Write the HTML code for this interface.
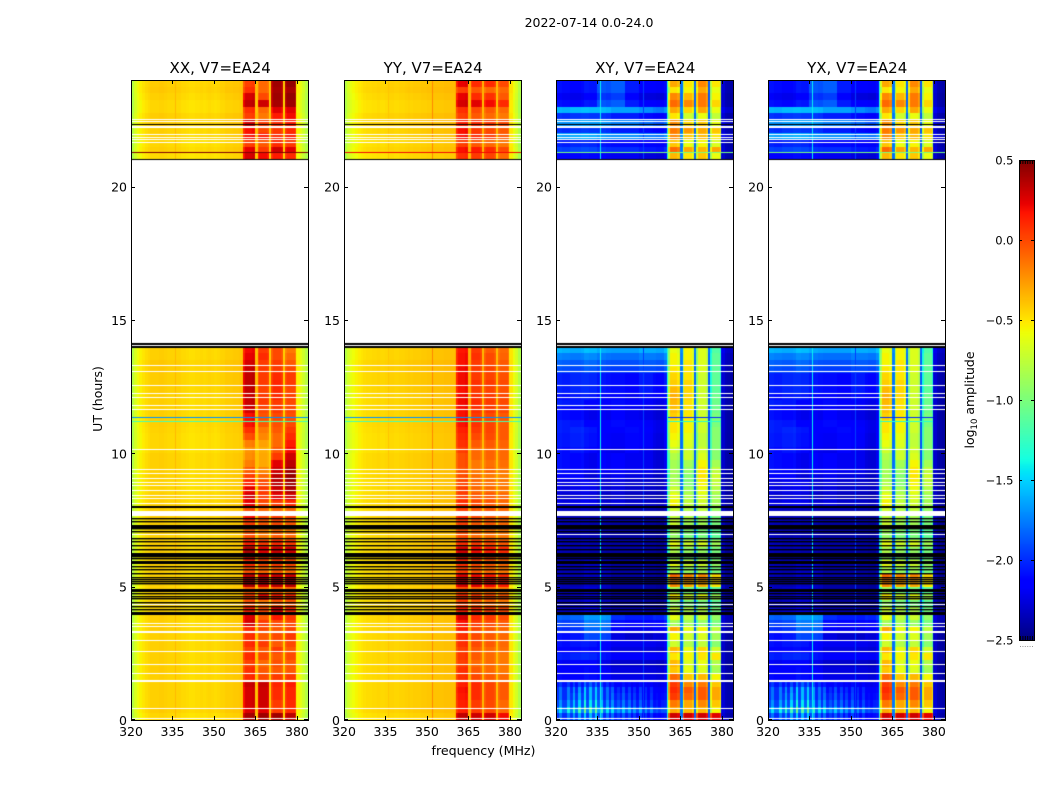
<!DOCTYPE html>
<html lang="en">
<head>
<meta charset="utf-8">
<title>2022-07-14 0.0-24.0</title>
<style>
html,body{margin:0;padding:0;background:#fff;}
#stage{position:relative;width:1050px;height:800px;overflow:hidden;background:#fff;font-family:"DejaVu Sans","Liberation Sans",sans-serif;}
canvas{position:absolute;display:block;}
svg{position:absolute;left:0;top:0;}
text{font-family:"DejaVu Sans","Liberation Sans",sans-serif;fill:#000;}
</style>
</head>
<body>
<div id="stage">
<canvas id="heat-xx" width="177" height="640" style="left:131px;top:80px"></canvas>
<canvas id="heat-yy" width="177" height="640" style="left:344px;top:80px"></canvas>
<canvas id="heat-xy" width="177" height="640" style="left:556px;top:80px"></canvas>
<canvas id="heat-yx" width="177" height="640" style="left:768px;top:80px"></canvas>
<canvas id="cbar" width="15" height="480" style="left:1019px;top:160px"></canvas>
<svg id="overlay" width="1050" height="800" viewBox="0 0 1050 800">
<text x="589" y="27" text-anchor="middle" font-size="12.5">2022-07-14 0.0-24.0</text>
<text x="483.5" y="755" text-anchor="middle" font-size="12.6">frequency (MHz)</text>
<text transform="translate(102,399) rotate(-90)" text-anchor="middle" font-size="12.5">UT (hours)</text>
<text transform="translate(974,400) rotate(-90)" text-anchor="middle" font-size="12.5">log<tspan font-size="8.5" dy="3">10</tspan><tspan dy="-3"> amplitude</tspan></text>
</svg>
</div>
<script>
// ---- axis labels ----
const xTicks = [320, 335, 350, 365, 380];
const yTicks = [0, 5, 10, 15, 20];
const cbarTicks = [0.5, 0, -0.5, -1, -1.5, -2, -2.5];
const panelTitles = ["XX, V7=EA24", "YY, V7=EA24", "XY, V7=EA24", "YX, V7=EA24"];

// ---- frequency channels (MHz edges) ----
const channelEdges = [320,321,322,323,324,325,326,327,328,329,330,331,332,333,334,335,336,337,338,339,340,341,342,343,344,345,346,347,348,349,350,351,352,353,354,355,356,357,358,359,360,
 360.4,361.2,363.8,365,365.8,366.4,369.2,369.8,370.6,371.2,374.4,375,375.7,376.3,379.2,379.8,381,382,383,384];
// which in-band segment a channel belongs to (-1 = outside the bands)
const channelBand = [-1,-1,-1,-1,-1,-1,-1,-1,-1,-1,-1,-1,-1,-1,-1,-1,-1,-1,-1,-1,-1,-1,-1,-1,-1,-1,-1,-1,-1,-1,-1,-1,-1,-1,-1,-1,-1,-1,-1,-1,-1,
 0,0,0,-1,1,1,1,-1,2,2,2,-1,3,3,3,-1,-1,-1,-1];

// ---- log10 amplitude per channel, outside bands (bands: edge offset) ----
const xxProfile = [-.8,-.66,-.58,-.54,-.5,-.47,-.45,-.43,-.43,-.43,-.42,-.42,-.43,-.44,-.44,-.44,-.44,-.44,-.46,-.46,-.47,-.48,-.48,-.47,-.47,-.46,-.47,-.46,-.45,-.46,-.47,-.46,-.44,-.44,-.42,-.42,-.42,-.41,-.41,-.4,-.4,
 -.12,-.02,0,-.38,-.08,0,-.03,-.42,-.08,0,-.05,-.44,-.05,0,-.05,-.55,-.62,-.7,-.8];
const yyProfile = [-.8,-.68,-.62,-.58,-.55,-.52,-.5,-.48,-.47,-.47,-.46,-.46,-.45,-.46,-.46,-.45,-.44,-.44,-.45,-.45,-.44,-.44,-.43,-.42,-.43,-.42,-.42,-.42,-.41,-.41,-.4,-.4,-.39,-.39,-.39,-.39,-.38,-.38,-.38,-.38,-.34,
 -.1,-.02,0,-.32,-.06,0,-.05,-.36,-.06,0,-.05,-.38,-.05,0,-.05,-.5,-.6,-.68,-.82];
const crossProfile = [-2.18,-2.18,-2.2,-2.2,-2.2,-2.22,-2.22,-2.22,-2.22,-2.2,-2.2,-2.2,-2.22,-2.22,-2.22,-2.22,-2.22,-2.22,-2.24,-2.24,-2.25,-2.25,-2.25,-2.25,-2.25,-2.25,-2.25,-2.25,-2.25,-2.25,-2.25,-2.25,-2.26,-2.26,-2.26,-2.26,-2.28,-2.28,-2.28,-2.2,-1.4,
 -.35,0,-.06,-1.8,-.3,0,-.1,-1.85,-.3,0,-.1,-1.9,-.25,0,-.2,-2.3,-2.38,-2.4,-2.42];

// narrow interference lines: frequency (MHz), log10 amplitude
const xxStreaks = [[335.9,-.36]];
const yyStreaks = [[335.9,-.4],[351.8,-.2]];
const crossStreaks = [[335.9,-1.42],[351.5,-1.95]];

// ---- time rows: 0-14 h and 21-24 h in quarter-hour steps; log10 amplitude per in-band segment ----
const xxBand1 = [.42,.28,.3,.3, .3,.33,.12,.1, .05,.12,.05,.12, .1,.12,.3,.28, .15,0,.05,-.05, .4,.35,0,.1, .2,.4,.15,0, -.05,.05,.2,0, .25,.3,.25,.15, .05,-.05,-.15,-.2, -.22,-.15,0,.1, .2,.2,.3,.33, .33,.35,.35,.35, .33,.3,.25,.22, .3,.25,.05,.2, .2,.3,.05,.1, .35,.3,.1,.05];
const xxBand2 = [.42,.25,.3,.3, .3,.32,0,-.05, -.1,0,-.05,.05, -.05,0,.05,-.05, 0,-.15,.2,-.1, .3,.3,-.1,0, .05,.25,.05,-.15, -.15,-.05,0,-.1, 0,.05,.05,0, -.1,-.2,-.3,-.3, -.32,-.28,-.2,-.15, -.05,-.03,0,.05, .05,.02,.05,.05, .05,.05,.1,.05, .2,.05,-.05,.15, 0,.05,-.15,-.1, .3,0,-.1,-.1];
const xxBand3 = [.42,.05,.05,.1, .1,.12,.05,-.05, -.02,-.05,.05,-.05, 0,-.05,0,.15, .3,-.05,.15,-.05, .35,.3,-.05,.05, .05,.3,.1,-.05, -.1,0,.05,-.1, .05,.25,.3,.35, .35,.3,.25,.05, -.05,-.1,-.1,-.05, -.02,0,.05,.05, .1,.1,.12,.1, .05,.05,0,0, .15,.3,.1,.1, .05,.1,.15,.25, .4,.42,.4,.42];
const xxBand4 = [.35,.1,.1,.12, .12,.15,.05,-.05, -.05,0,-.05,0, .05,0,0,.05, .1,-.05,.1,-.1, .35,.3,-.1,0, 0,.3,.05,-.1, -.15,-.05,0,-.1, .1,.3,.38,.42, .45,.42,.35,.3, .2,.15,.1,.05, 0,-.02,0,0, .02,0,.05,.05, 0,-.05,-.1,-.15, .1,.25,.05,.15, .1,.15,.2,.25, .42,.45,.4,.45];

const yyBand1 = [.35,.15,.15,.18, .2,.15,.1,.1, .05,.08,.05,.1, .1,.15,.2,.3, .15,.05,.1,0, .3,.28,.05,.1, .15,.3,.1,0, 0,.05,.1,.05, .1,.05,.05,.02, 0,-.02,0,0, .05,.1,.12,.15, .2,.2,.2,.22, .22,.2,.22,.22, .22,.2,.2,.18, .1,.2,.05,.2, .2,.15,.05,.1, .3,.25,.05,.25];
const yyBand2 = [.3,.05,.05,.1, .1,.1,0,-.05, -.1,-.05,-.05,0, 0,0,.05,.1, .1,-.05,.05,-.1, .25,.2,-.05,0, .05,.2,.05,-.1, -.1,-.05,0,-.05, 0,-.05,-.1,-.1, -.12,-.15,-.15,-.1, -.1,-.05,0,.05, .08,.05,.08,.1, .08,.05,.08,.05, .05,.05,.08,.05, .05,.15,-.05,.1, .05,.1,-.05,0, .25,.1,-.05,.1];
const yyBand3 = [.3,0,0,.02, .02,.02,-.05,-.1, -.1,-.1,-.1,-.05, -.05,-.05,0,.05, .05,-.1,0,-.1, .2,.15,-.1,-.05, 0,.15,0,-.12, -.12,-.05,-.05,-.05, -.05,-.05,-.1,-.12, -.15,-.1,-.12,-.08, -.08,-.05,0,.02, .02,0,.05,.05, .05,.02,.05,.02, .02,0,0,-.05, .02,.1,-.1,.05, 0,.05,-.1,-.05, .2,.08,-.1,.1];
const yyBand4 = [.2,-.1,-.1,-.05, -.05,-.05,-.1,-.15, -.15,-.15,-.12,-.1, -.1,-.1,-.05,0, 0,-.15,-.05,-.15, .15,.1,-.15,-.1, -.05,.1,-.05,-.15, -.15,-.1,-.1,-.1, -.1,-.1,-.15,-.15, -.18,-.15,-.12,-.1, -.1,-.08,-.05,-.05, -.05,-.05,0,0, 0,-.02,0,-.02, -.05,-.05,-.08,-.1, -.1,0,-.15,-.05, -.05,0,-.15,-.1, .1,-.05,-.1,0];

const crossBand1 = [.3,-.3,-.15,.05, .1,.05,-.1,-.4, -.35,-.5,-.35,-.7, -.55,-.3,-.85,-.6, -.7,-.9,-.5,-.85, -.2,-.1,-.8,-.6, -.9,-.8,-.6,-.9, -.85,-.7,-.75,-.7, -.55,-.6,-.7,-.8, -.85,-.85,-.85,-.8, -.7,-.6,-.55,-.5, -.5,-.42,-.38,-.35, -.32,-.35,-.42,-.45, -.5,-.55,-.55,-.6, -.35,-.1,-.4,-.2, -.15,-.2,-.5,-.3, -.1,-.2,-.5,-.3];
const crossBand2 = [.3,-.35,-.3,-.1, -.05,-.2,-.4,-.6, -.65,-.55,-.6,-.8, -.7,-.6,-.85,-.75, -.8,-1,-.7,-1, -.3,-.2,-.9,-.7, -1,-.9,-.7,-1, -.95,-.85,-.8,-.8, -.75,-.8,-.85,-.95, -.95,-.9,-.85,-.7, -.7,-.65,-.6,-.55, -.55,-.5,-.5,-.48, -.45,-.45,-.45,-.5, -.5,-.5,-.55,-.55, -.5,-.3,-.6,-.4, -.25,-.45,-.7,-.45, -.2,-.35,-.55,-.5];
const crossBand3 = [.3,-.35,-.2,-.05, -.05,-.15,-.35,-.65, -.6,-.5,-.45,-.75, -.65,-.55,-.9,-.7, -.8,-1,-.6,-1, -.3,-.2,-.85,-.7, -.95,-.9,-.65,-1, -1,-.85,-.85,-.75, -.7,-.65,-.6,-.55, -.5,-.5,-.55,-.65, -.7,-.75,-.75,-.7, -.7,-.7,-.7,-.7, -.7,-.7,-.7,-.7, -.65,-.65,-.65,-.65, -.4,-.35,-.55,-.35, -.3,-.4,-.6,-.3, -.15,-.15,-.3,-.2];
const crossBand4 = [.25,-.55,-.4,-.3, -.3,-.4,-.55,-.85, -.8,-.5,-.7,-.95, -.85,-.75,-1,-.9, -1,-1.1,-.85,-1.1, -.5,-.45,-1,-.9, -1.05,-1,-.85,-1.1, -1.1,-1,-1,-.9, -.85,-.85,-.8,-.75, -.7,-.75,-.85,-.95, -.95,-.95,-.95,-.95, -1,-1,-1.05,-1.05, -1.05,-1.1,-1.1,-1.1, -1.1,-1.1,-1.1,-1.15, -.6,-.3,-.65,-.5, -.4,-.6,-.75,-.6, -.45,-.55,-.6,-.5];

// row-to-row offset of the out-of-band level
const parallelRowOffset = [-.02,.01,0,0, 0,0,0,.01, 0,0,0,0, 0,.01,0,0, -.02,-.01,0,0, 0,-.01,0,0, 0,0,0,0, 0,0,.01,0, 0,0,-.01,-.01, 0,0,0,0, -.02,-.02,-.02,-.01, 0,0,0,0, 0,.01,.01,.01, .02,.02,0,0, -.03,0,-.02,0, 0,.02,.01,-.02, -.02,0,.02,.01];
const crossRowOffset = [.1,.3,.15,.1, .1,.05,.02,0, -.1,.05,-.05,0, -.05,.05,.1,.2, -.1,-.15,-.15,-.15, -.15,-.15,-.15,-.15, -.15,-.15,-.15,-.15, -.15,-.15,-.15,-.12, -.05,-.1,-.05,-.05, -.05,0,0,0, 0,.03,.03,.05, .05,0,0,.05, .05,.1,.1,.1, .15,.2,.3,.45, 0,.2,.1,.5, .1,.4,.1,.5, .1,0,.1,.1];

// low-altitude interference comb in the first hour and a half (per channel, 320-360 MHz)
const crossLowComb = [.1,.5,.1,.1,.6,.1,.7,.1,.8,.1,1,.1,.9,.2,1,.3,.8,.1,.6,.1,.6,.1,.3,.1,.5,.1,.4,0,.3,0,.4,0,.3,0,.3,0,.1,0,.1,0];
const crossLowWeight = [.5,.75,.6,.5,.5,.25];

// smooth patches of emission: one row per hour (0-13, 21-23), one column per 5 MHz (320-360)
const crossPatch = [
 [.05,.1,.1,.05,.05,.05,.03,.03],[.05,.05,.1,.05,0,0,0,0],[.1,.15,.15,.1,.05,.05,.05,.05],[.15,.2,.35,.35,.05,0,0,.05],
 [0,.05,.1,.05,0,0,0,0],[0,0,.05,.05,0,0,0,0],[0,0,0,0,0,0,0,0],[0,0,0,0,0,0,0,0],
 [0,.05,.05,0,.05,0,0,0],[.1,.1,0,.05,.1,.05,.05,0],[.1,.15,.1,.03,.03,.1,.05,0],[.1,.1,0,.03,.1,.05,.03,0],
 [.05,.1,.1,.05,.05,0,.1,.05],[.15,.15,.2,.15,.15,.15,.2,.2],
 [.05,.1,.1,.05,.05,.05,0,0],[.1,.15,.15,.15,.1,.1,.05,0],[0,0,.05,.25,.3,.1,0,0]
];

// flagged integrations (UT hours)
const whiteFlagHours = [22.55,22.46,21.97,21.88,21.78,21.69,13.33,13.07,12.58,12.28,12.12,11.83,11.68,10.15,9.40,9.25,9.06,8.93,8.80,8.61,8.42,8.34,8.12,6.97,4.35,3.65,3.52,3.0,2.57,2.09,1.75,.46,.09];
const whiteThickHours = [22.29,7.82,3.35,1.5];
const blackHairHours = [22.34,21.05,8.03,7.97];
const blackFlagHours = [7.56,7.47,7.20,7.08,6.83,6.71,6.58,6.41,6.16,6.06,5.78,5.66,5.53,5.35,5.27,5.20,5.12,4.75,4.66,4.56,4.43,4.26,4.16];
const blackThickHours = [14.12,14.03,7.33,6.27,5.95,4.91,4.06];
const parallelDarkHours = [21.31];
const parallelBlueLines = [[11.38,-1.7],[11.23,-1.2]];
const crossBandLines = [[11.38,-2.0],[11.23,-1.3]];
const crossAccentHours = [21.31];

// ---- scales ----
const FREQ_MIN = 320, FREQ_MAX = 384, HOUR_MIN = 0, HOUR_MAX = 24;
const PANEL_W = 177, PANEL_H = 640, PANEL_TOP = 80;
const panelLefts = [131, 344, 556, 768];
function xScale(f){ return (f - FREQ_MIN) / (FREQ_MAX - FREQ_MIN) * PANEL_W; }
function yScale(h){ return (HOUR_MAX - h) / (HOUR_MAX - HOUR_MIN) * PANEL_H; }
function rowStart(r){ return r < 56 ? r / 4 : 21 + (r - 56) / 4; }

function lerpStops(stops, t){
  for (let i = 1; i < stops.length; i++) {
    if (t <= stops[i][0]) {
      const a = stops[i-1], b = stops[i];
      return a[1] + (b[1] - a[1]) * (t - a[0]) / (b[0] - a[0]);
    }
  }
  return stops[stops.length-1][1];
}
const jetR = [[0,0],[.35,0],[.66,1],[.89,1],[1,.5]];
const jetG = [[0,0],[.125,0],[.375,1],[.64,1],[.91,0],[1,0]];
const jetB = [[0,.5],[.11,1],[.34,1],[.65,0],[1,0]];
function colorOf(v){
  const t = Math.max(0, Math.min(1, (v + 2.5) / 3));
  return "rgb(" + Math.round(255*lerpStops(jetR,t)) + "," + Math.round(255*lerpStops(jetG,t)) + "," + Math.round(255*lerpStops(jetB,t)) + ")";
}

function cellValue(profile, bands, rowOffset, isCross, c, r){
  const b = channelBand[c];
  if (b >= 0) return bands[b][r] + profile[c];
  let v = profile[c] + rowOffset[r];
  if (isCross && c < 40) {
    const hourIdx = r < 56 ? Math.floor(r / 4) : 14 + Math.floor((r - 56) / 4);
    v += crossPatch[hourIdx][Math.floor(c / 5)];
    if (r < crossLowWeight.length) v += crossLowComb[c] * crossLowWeight[r];
  }
  if (isCross && c >= 40) v -= rowOffset[r] * 0.8;
  return v;
}

function flagLine(ctx, h, thick, color){
  ctx.fillStyle = color;
  ctx.fillRect(0, Math.round(yScale(h)), PANEL_W, thick);
}

function drawPanel(id, profile, bands, rowOffset, isCross, streaks){
  const ctx = document.getElementById(id).getContext("2d");
  ctx.fillStyle = "#fff";
  ctx.fillRect(0, 0, PANEL_W, PANEL_H);
  const rows = rowOffset.length, cols = channelBand.length;
  for (let r = 0; r < rows; r++) {
    const h0 = rowStart(r), h1 = h0 + 0.25;
    const yTop = Math.round(yScale(h1)), yBot = Math.round(yScale(h0));
    for (let c = 0; c < cols; c++) {
      const xa = Math.round(xScale(channelEdges[c])), xb = Math.round(xScale(channelEdges[c+1]));
      ctx.fillStyle = colorOf(cellValue(profile, bands, rowOffset, isCross, c, r));
      ctx.fillRect(xa, yTop, xb - xa, yBot - yTop);
    }
  }
  streaks.forEach(function(s){
    ctx.fillStyle = colorOf(s[1]);
    ctx.fillRect(Math.round(xScale(s[0])), 0, 1, PANEL_H);
  });
  // data gap between 14 h and 21 h
  ctx.fillStyle = "#fff";
  ctx.fillRect(0, Math.round(yScale(21.05)), PANEL_W, Math.round(yScale(14)) - Math.round(yScale(21.05)));
  if (isCross) {
    crossBandLines.forEach(function(l){
      ctx.fillStyle = colorOf(l[1]);
      ctx.fillRect(Math.round(xScale(360.4)), Math.round(yScale(l[0])), Math.round(xScale(379.8)) - Math.round(xScale(360.4)), 1);
    });
    crossAccentHours.forEach(function(h){ flagLine(ctx, h, 1, colorOf(-1.0)); });
  } else {
    parallelBlueLines.forEach(function(l){ flagLine(ctx, l[0], 1, colorOf(l[1])); });
    parallelDarkHours.forEach(function(h){ flagLine(ctx, h, 1, colorOf(id === "heat-xx" ? 0.5 : 0.2)); });
  }
  whiteFlagHours.forEach(function(h){ flagLine(ctx, h, 1, "#fff"); });
  whiteThickHours.forEach(function(h){ flagLine(ctx, h, h === 7.82 ? 5 : 2, "#fff"); });
  blackHairHours.forEach(function(h){ flagLine(ctx, h, 1, "#000"); });
  blackFlagHours.forEach(function(h){ flagLine(ctx, h, 1.4, "#000"); });
  blackThickHours.forEach(function(h){ flagLine(ctx, h, h >= 14 ? 2 : 3, "#000"); });
}

drawPanel("heat-xx", xxProfile, [xxBand1,xxBand2,xxBand3,xxBand4], parallelRowOffset, false, xxStreaks);
drawPanel("heat-yy", yyProfile, [yyBand1,yyBand2,yyBand3,yyBand4], parallelRowOffset, false, yyStreaks);
drawPanel("heat-xy", crossProfile, [crossBand1,crossBand2,crossBand3,crossBand4], crossRowOffset, true, crossStreaks);
drawPanel("heat-yx", crossProfile, [crossBand1,crossBand2,crossBand3,crossBand4], crossRowOffset, true, crossStreaks);

// ---- colorbar ----
(function(){
  const ctx = document.getElementById("cbar").getContext("2d");
  for (let i = 0; i < 480; i++) {
    ctx.fillStyle = colorOf(0.5 - (i + 0.5) / 480 * 3);
    ctx.fillRect(0, i, 15, 1);
  }
})();

// ---- axes ----
const NS = "http://www.w3.org/2000/svg";
const overlay = document.getElementById("overlay");
function line(x1, y1, x2, y2, w){
  const el = document.createElementNS(NS, "line");
  el.setAttribute("x1", x1); el.setAttribute("y1", y1);
  el.setAttribute("x2", x2); el.setAttribute("y2", y2);
  el.setAttribute("stroke", "#000");
  el.setAttribute("stroke-width", w || 1);
  
  
  overlay.appendChild(el);
  return el;
}
function label(x, y, str, anchor, size, name){
  const el = document.createElementNS(NS, "text");
  el.setAttribute("x", x); el.setAttribute("y", y);
  el.setAttribute("text-anchor", anchor);
  el.setAttribute("font-size", size);
  
  
  el.textContent = str;
  overlay.appendChild(el);
}
function frame(x, y, w, h, name){
  const el = document.createElementNS(NS, "rect");
  el.setAttribute("x", x + 0.5); el.setAttribute("y", y + 0.5);
  el.setAttribute("width", w); el.setAttribute("height", h);
  el.setAttribute("fill", "none");
  el.setAttribute("stroke", "#000");
  
  
  overlay.appendChild(el);
}
panelLefts.forEach(function(left, i){
  frame(left, PANEL_TOP, PANEL_W, PANEL_H, "panel-frame");
  label(left + PANEL_W / 2 + 0.7, 73, panelTitles[i], "middle", 15, "panel-title");
  xTicks.forEach(function(f){
    const x = Math.round(left + xScale(f)) + 0.5;
    line(x, PANEL_TOP, x, PANEL_TOP + 4);
    line(x, PANEL_TOP + PANEL_H - 4, x, PANEL_TOP + PANEL_H);
    label(left + xScale(f), PANEL_TOP + PANEL_H + 16, String(f), "middle", 12.5, "x-tick-label");
  });
  yTicks.forEach(function(h){
    const y = Math.round(PANEL_TOP + yScale(h)) + (h === 0 ? -0.5 : 0.5);
    line(left, y, left + 4, y);
    line(left + PANEL_W - 4, y, left + PANEL_W, y);
    label(left - 4, PANEL_TOP + yScale(h) + 5, String(h), "end", 12.5, "y-tick-label");
  });
});

// colorbar frame, ticks, labels
const CB_LEFT = 1019, CB_W = 15, CB_TOP = 160, CB_H = 480;
frame(CB_LEFT, CB_TOP, CB_W, CB_H, "colorbar-frame");
cbarTicks.forEach(function(v){
  const y = Math.round(CB_TOP + (0.5 - v) / 3 * CB_H) + 0.5;
  line(CB_LEFT, y, CB_LEFT + 3, y);
  line(CB_LEFT + CB_W - 3, y, CB_LEFT + CB_W, y);
  label(CB_LEFT - 5.5, y + 4, v.toFixed(1).replace("-", "\u2212"), "end", 11.5, "colorbar-tick-label");
});
const cbarEdgeTicks = [0, 1, 2, 3, 4, 5];
cbarEdgeTicks.forEach(function(i){
  const x = CB_LEFT + 1.5 + i * 2.4;
  line(x, CB_TOP, x, CB_TOP + 4);
  line(x, CB_TOP + CB_H - 4, x, CB_TOP + CB_H);
  const dot = document.createElementNS(NS, "rect");
  dot.setAttribute("x", x - 0.5);
  dot.setAttribute("y", 646);
  dot.setAttribute("width", 1);
  dot.setAttribute("height", 1);
  dot.setAttribute("fill", "#999");
  
  
  overlay.appendChild(dot);
});
</script>
</body>
</html>
